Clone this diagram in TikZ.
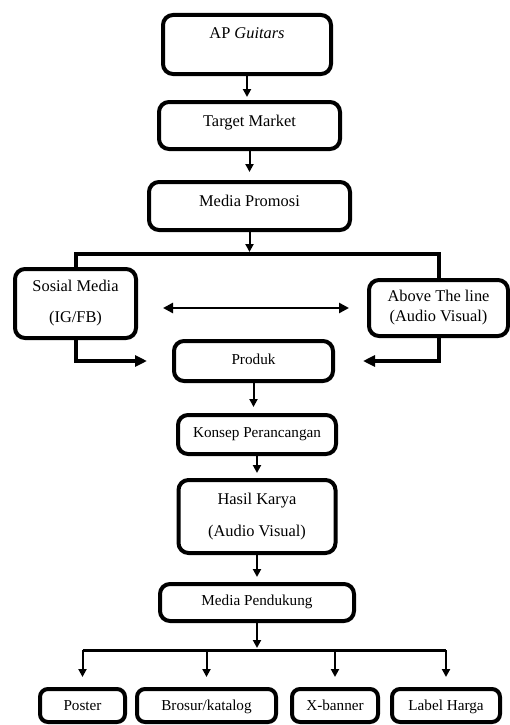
\documentclass[tikz,border=0pt]{standalone}
\usepackage{fontspec}
\setmainfont{Liberation Serif}
\usetikzlibrary{positioning, arrows.meta}

\tikzset{
  box/.style={draw, line width=4pt, rounded corners=10pt, inner xsep=0pt, inner ysep=0pt},
  cap/.style 2 args={text height=#1, text depth=#2},
  big/.style={font=\fontsize{16.4}{19}\selectfont},
  arr/.style={line width=2pt, -{Triangle[width=8pt,length=8pt]}},
  both arr/.style={line width=2.5pt, {Triangle[width=10pt,length=10pt]}-{Triangle[width=10pt,length=10pt]}},
  bold arr/.style={line width=4pt, -{Triangle[width=11pt,length=12pt]}},
}

\begin{document}
\begin{tikzpicture}[x=1pt, y=-1pt, font=\fontsize{15.2}{18}\selectfont]
        \useasboundingbox (0,0) rectangle (510,725);

        % main column
        \node[box, big, minimum width=168pt, cap={23pt}{36pt}] (AP) at (247, 44.5) {AP \textit{Guitars}};
        \node[box, big, minimum width=181pt, cap={24pt}{23pt}, below=24pt of AP, xshift=2.5pt] (Target) {Target Market};
        \node[box, big, minimum width=201pt, cap={24pt}{24pt}, below=29pt of Target] (MP) {Media Promosi};
        \coordinate[below=22pt of MP] (busA);

        % media
        \node[box, big, align=center, minimum width=121pt, minimum height=69pt] (Sos) at (75.5, 303.5) {Sosial Media\\[12pt](IG/FB)};
        \node[box, big, align=center, minimum width=139pt, minimum height=56pt] (Atl) at (438.5, 308) {Above The line\\[1pt](Audio Visual)};

        \node[box, minimum width=159pt, cap={23pt}{17pt}] (Prod) at (253.5, 361) {Produk};
        \node[box, minimum width=158pt, cap={22pt}{17pt}, below=30pt of Prod, xshift=3.5pt] (Konsep) {Konsep Perancangan};
        \node[box, big, align=center, minimum width=157pt, minimum height=73pt, below=22pt of Konsep] (Hasil) {Hasil Karya\\[13pt](Audio Visual)};
        \node[box, minimum width=194pt, cap={21pt}{16pt}, below=27pt of Hasil] (MPend) {Media Pendukung};
        \coordinate[below=27pt of MPend] (busB);

        % supporting media
        \node[box, rounded corners=8pt, minimum width=85pt, cap={21pt}{12pt}] (Poster) at (82.5, 705.5) {Poster};
        \node[box, rounded corners=8pt, minimum width=139pt, cap={21pt}{12pt}, right=8pt of Poster] (Brosur) {Brosur/katalog};
        \node[box, rounded corners=8pt, minimum width=86pt, cap={21pt}{12pt}, right=12pt of Brosur] (Xban) {X-banner};
        \node[box, rounded corners=8pt, minimum width=108pt, cap={21pt}{12pt}, right=10pt of Xban] (Label) {Label Harga};

        \draw[arr, shorten >=3pt] (AP.south) -- (AP.south |- Target.north);
        \draw[arr, shorten >=8pt] (Target.south) -- (MP.north);
        \draw[arr, shorten >=2pt] (MP.south) -- (busA);
        \draw[line width=4pt] (Sos.north) |- (busA) -| (Atl.north);
        \draw[both arr, shorten <=25pt, shorten >=18pt] (Sos.east |- Atl.west) -- (Atl.west);
        \draw[bold arr, shorten >=25pt] (Sos.south) |- (Prod.west);
        \draw[bold arr, shorten >=28pt] (Atl.south) |- (Prod.east);
        \draw[arr, shorten >=6pt] (Prod.south) -- (Prod.south |- Konsep.north);
        \draw[arr, shorten >=5pt] (Konsep.south) -- (Hasil.north);
        \draw[arr, shorten >=5pt] (Hasil.south) -- (MPend.north);
        \draw[arr, shorten >=2pt] (MPend.south) -- (busB);
        \draw[line width=3pt] (Poster.north |- busB) -- (Label.north |- busB);
        \foreach \n in {Poster, Brosur, Xban, Label}
            \draw[arr, shorten >=10pt] (\n.north |- busB) -- (\n.north);
\end{tikzpicture}
\end{document}
